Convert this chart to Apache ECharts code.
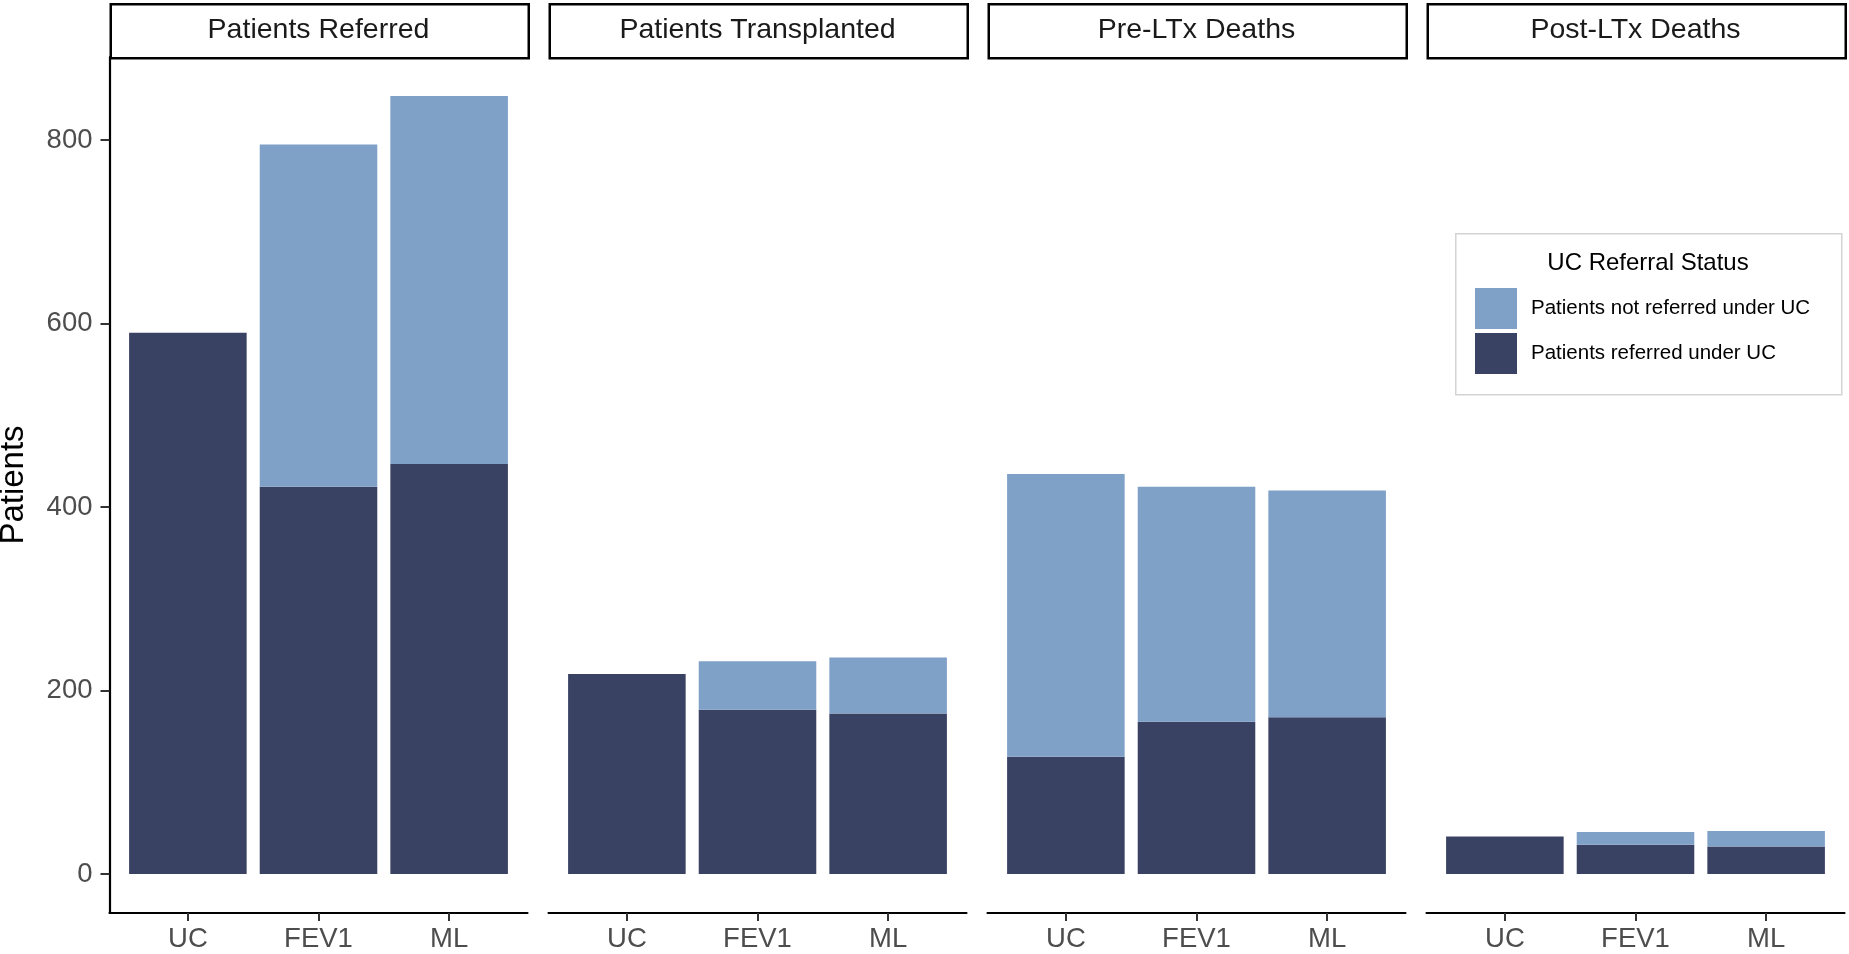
<!DOCTYPE html>
<html><head><meta charset="utf-8">
<script src="https://cdn.jsdelivr.net/npm/echarts@6/dist/echarts.min.js"></script>
<style>html,body{margin:0;padding:0;background:#fff}#c{width:1849px;height:954px}</style>
</head><body><div id="c"></div>
<script>
// ---- data ----
const panels = ['Patients Referred', 'Patients Transplanted', 'Pre-LTx Deaths', 'Post-LTx Deaths'];
const categories = ['UC', 'FEV1', 'ML'];
const referredUnderUC    = [[590, 422, 447], [218, 179, 175], [128, 166, 171], [41, 32, 30]];
const notReferredUnderUC = [[0, 373, 401],   [0, 53, 61],     [308, 256, 247], [0, 14, 17]];
const yTicks = [0, 200, 400, 600, 800];
const yMin = -42.4, yMax = 890.4;
const seriesNames = ['Patients not referred under UC', 'Patients referred under UC'];
const legendTitle = 'UC Referral Status';
const yTitle = 'Patients';

// ---- layout / style ----
const FONT = "'Liberation Sans', Arial, Helvetica, sans-serif";
const plotLeft = 109.5, panelW = 418, panelGap = 21, plotTop = 57, plotBottom = 913;
const stripTop = 3, stripH = 54;
const DARK = '#3a4263', LIGHT = '#7fa0c7';

const chart = echarts.init(document.getElementById('c'), null, {renderer: 'canvas'});
const grids = [], xAxes = [], yAxes = [], series = [], graphics = [];

panels.forEach((p, i) => {
  const left = plotLeft + i * (panelW + panelGap);
  grids.push({left: left, top: plotTop, width: panelW, height: plotBottom - plotTop,
              containLabel: false, outerBoundsMode: 'none'});
  const catPos = categories.map((c, j) => j + 1);
  xAxes.push({
    type: 'value', gridIndex: i, min: 0.4, max: 3.6,
    splitLine: {show: false},
    axisLine: {show: true, onZero: false, lineStyle: {color: '#000', width: 2.2}},
    axisTick: {show: true, customValues: catPos, length: 8, lineStyle: {color: '#333', width: 2}},
    axisLabel: {customValues: catPos, formatter: v => categories[Math.round(v) - 1],
                fontSize: 27.5, color: '#4d4d4d', fontFamily: FONT, margin: 12}
  });
  yAxes.push({
    type: 'value', gridIndex: i, min: yMin, max: yMax, show: i === 0,
    splitLine: {show: false},
    axisLine: {show: true, onZero: false, lineStyle: {color: '#000', width: 2.2}},
    axisTick: {show: true, customValues: yTicks, length: 9, lineStyle: {color: '#333', width: 2}},
    axisLabel: {customValues: yTicks, fontSize: 27.5, color: '#4d4d4d', fontFamily: FONT, margin: 17},
    name: i === 0 ? yTitle : '', nameLocation: 'middle', nameGap: 79,
    nameTextStyle: {fontSize: 33, color: '#000', fontFamily: FONT}
  });
  // value first, category position second, so the stack runs on the value dimension
  series.push({
    type: 'bar', name: seriesNames[1], xAxisIndex: i, yAxisIndex: i, stack: 's' + i,
    barWidth: '90%', itemStyle: {color: DARK}, encode: {x: 1, y: 0},
    data: categories.map((c, j) => [referredUnderUC[i][j], j + 1])
  });
  series.push({
    type: 'bar', name: seriesNames[0], xAxisIndex: i, yAxisIndex: i, stack: 's' + i,
    barWidth: '90%', itemStyle: {color: LIGHT}, encode: {x: 1, y: 0},
    data: categories.map((c, j) => [notReferredUnderUC[i][j], j + 1])
  });
  graphics.push({
    type: 'rect', left: left, top: stripTop, z: 10,
    shape: {width: panelW, height: stripH},
    style: {fill: '#fff', stroke: '#000', lineWidth: 2.5}
  });
  graphics.push({
    type: 'text', x: left + panelW / 2, y: stripTop + stripH / 2, z: 11,
    style: {text: p, fontSize: 28.5, fill: '#1a1a1a', fontFamily: FONT, align: 'center', verticalAlign: 'middle'}
  });
});

// legend box + title
const lgLeft = 1455, lgTop = 233, lgW = 386, lgH = 161;
graphics.push({type: 'rect', left: lgLeft, top: lgTop, z: 1,
  shape: {width: lgW, height: lgH}, style: {fill: '#fff', stroke: '#d4d4d4', lineWidth: 1.5}});
graphics.push({type: 'text', x: lgLeft + lgW / 2, y: 263, z: 11,
  style: {text: legendTitle, fontSize: 24, fill: '#000', fontFamily: FONT, align: 'center', verticalAlign: 'middle'}});

chart.setOption({
  animation: false,
  backgroundColor: '#fff',
  grid: grids, xAxis: xAxes, yAxis: yAxes, series: series,
  legend: {
    data: seriesNames, orient: 'vertical', left: 1475, top: 288,
    itemWidth: 42, itemHeight: 41, itemGap: 4, padding: 0, icon: 'rect',
    selectedMode: false, z: 20,
    textStyle: {fontSize: 20.5, color: '#000', fontFamily: FONT, padding: [0, 0, 0, 9]}
  },
  graphic: {elements: graphics}
});
</script></body></html>
